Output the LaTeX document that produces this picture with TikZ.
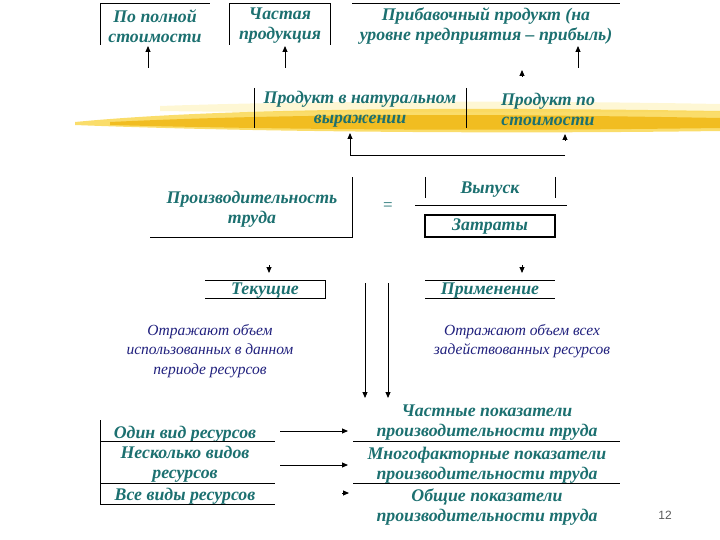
\documentclass[tikz,border=0pt]{standalone}
\usepackage{fontspec}
\setmainfont{Liberation Serif}
\newfontfamily\pagenumfont{Liberation Sans}
\usetikzlibrary{arrows.meta}
\definecolor{teal1}{RGB}{28,112,112}
\definecolor{navy1}{RGB}{32,32,125}
\definecolor{brushA}{RGB}{240,184,20}
\definecolor{brushB}{RGB}{249,212,70}
\definecolor{brushC}{RGB}{253,238,160}
\begin{document}
\begin{tikzpicture}[x=1pt,y=-1pt,
  lbl/.style={font=\fontsize{17.8}{20}\selectfont\bfseries\itshape, text=teal1, align=center, inner sep=0pt},
  note/.style={font=\fontsize{15.5}{19.5}\selectfont\itshape, text=navy1, align=center, inner sep=0pt},
  ln/.style={line width=0.9pt, black},
  arr/.style={line width=0.9pt, -{Triangle[length=6pt,width=5pt]}},
  tipo/.style={line width=0.9pt, -{Triangle[length=6pt,width=5pt]}}
]
\useasboundingbox (0,0) rectangle (720,540);

% yellow brush stroke
\fill[brushC, opacity=0.45] (160,106) .. controls (300,101) and (500,100) .. (720,104) -- (720,112) .. controls (500,112) and (300,113) .. (160,111) -- cycle;
\fill[brushB, opacity=0.8] (75,122) .. controls (200,110) and (400,106) .. (720,111) -- (720,131) .. controls (500,134) and (250,132) .. (75,125) -- cycle;
\fill[brushA, opacity=0.85] (110,122) .. controls (300,113) and (500,114) .. (720,118) -- (720,128) .. controls (500,131) and (300,130) .. (110,125) -- cycle;

% text nodes
\node[lbl] (pp) at (155,26) {По полной\\стоимости};
\node[lbl] (cp) at (280,26) {Частая\\продукция};
\node[lbl] (pr) at (486,26) {Прибавочный продукт (на\\уровне предприятия – прибыль)};
\node[lbl] (pn) at (360,109) {Продукт в натуральном\\выражении};
\node[lbl] (ps) at (548,109) {Продукт по\\стоимости};
\node[lbl] (pt) at (252,209) {Производительность\\труда};
\node[text=teal1, font=\fontsize{17}{20}\selectfont, inner sep=0pt] (eq) at (388,207) {=};
\node[lbl] (vy) at (490,190) {Выпуск};
\node[lbl] (zt) at (490,227) {Затраты};
\node[lbl] (tk) at (265,291) {Текущие};
\node[lbl] (pm) at (490,291) {Применение};
\node[note] (n1) at (210,351) {Отражают объем\\использованных в данном\\периоде ресурсов};
\node[note] (n2) at (522,341) {Отражают объем всех\\задействованных ресурсов};
\node[lbl] (r1) at (185,434) {Один вид ресурсов};
\node[lbl] (r2) at (185,464) {Несколько видов\\ресурсов};
\node[lbl] (r3) at (185,496) {Все виды ресурсов};
\node[lbl] (i1) at (487,423) {Частные показатели\\производительности труда};
\node[lbl] (i2) at (487,465) {Многофакторные показатели\\производительности труда};
\node[lbl] (i3) at (487,507) {Общие показатели\\производительности труда};
\node[font=\fontsize{12}{14}\selectfont\pagenumfont, text=black!65, inner sep=0pt] (pg) at (665,515) {12};

% coordinates
\coordinate (a1s) at (148,68); \coordinate (a1e) at (148,46);
\coordinate (a2s) at (285,68); \coordinate (a2e) at (285,46);
\coordinate (a3s) at (578,68); \coordinate (a3e) at (578,46);
\coordinate (t1s) at (522,77); \coordinate (t1e) at (522,70);
\coordinate (b1) at (565,155); \coordinate (b2) at (350,155); \coordinate (b3) at (350,133);
\coordinate (t2s) at (565,141); \coordinate (t2e) at (565,134);
\coordinate (t3s) at (269,265); \coordinate (t3e) at (269,273);
\coordinate (t4s) at (522,265); \coordinate (t4e) at (522,273);
\coordinate (v1s) at (365,283); \coordinate (v1e) at (365,398);
\coordinate (v2s) at (388,283); \coordinate (v2e) at (388,398);
\coordinate (h1s) at (280,431); \coordinate (h1e) at (348,431);
\coordinate (h2s) at (280,465); \coordinate (h2e) at (348,465);
\coordinate (t5s) at (342,493); \coordinate (t5e) at (349,493);

% top boxes
\draw[ln] (100,45) -- (100,3) -- (210,3);
\draw[ln] (229,45) -- (229,3) -- (330,3) -- (330,45);
\draw[ln] (352,3) -- (620,3);
\draw[arr] (a1s) -- (a1e);
\draw[arr] (a2s) -- (a2e);
\draw[arr] (a3s) -- (a3e);
\draw[tipo] (t1s) -- (t1e);

% middle separators
\draw[ln] (254,88) -- (254,128);
\draw[ln] (466,88) -- (466,128);
\draw[ln] (b1) -- (b2);
\draw[arr] (b2) -- (b3);
\draw[tipo] (t2s) -- (t2e);

% productivity
\draw[ln] (150,237) -- (352,237) -- (352,177);
\draw[ln] (425,177) -- (425,198);
\draw[ln] (555,177) -- (555,198);
\draw[ln] (415,205) -- (567,205);
\draw[line width=1.4pt] (425,215) rectangle (555,237);

% current / application
\draw[tipo] (t3s) -- (t3e);
\draw[ln] (205,280) -- (325,280) -- (325,298) -- (205,298);
\draw[tipo] (t4s) -- (t4e);
\draw[ln] (425,280) -- (555,280);
\draw[ln] (425,298) -- (555,298);
\draw[arr] (v1s) -- (v1e);
\draw[arr] (v2s) -- (v2e);

% bottom tables
\draw[ln] (100,420) -- (100,504);
\draw[ln] (100,441) -- (275,441);
\draw[ln] (100,483) -- (275,483);
\draw[ln] (100,504) -- (275,504);
\draw[ln] (353,441) -- (620,441);
\draw[ln] (353,483) -- (620,483);
\draw[arr] (h1s) -- (h1e);
\draw[arr] (h2s) -- (h2e);
\draw[tipo] (t5s) -- (t5e);
\end{tikzpicture}
\end{document}
